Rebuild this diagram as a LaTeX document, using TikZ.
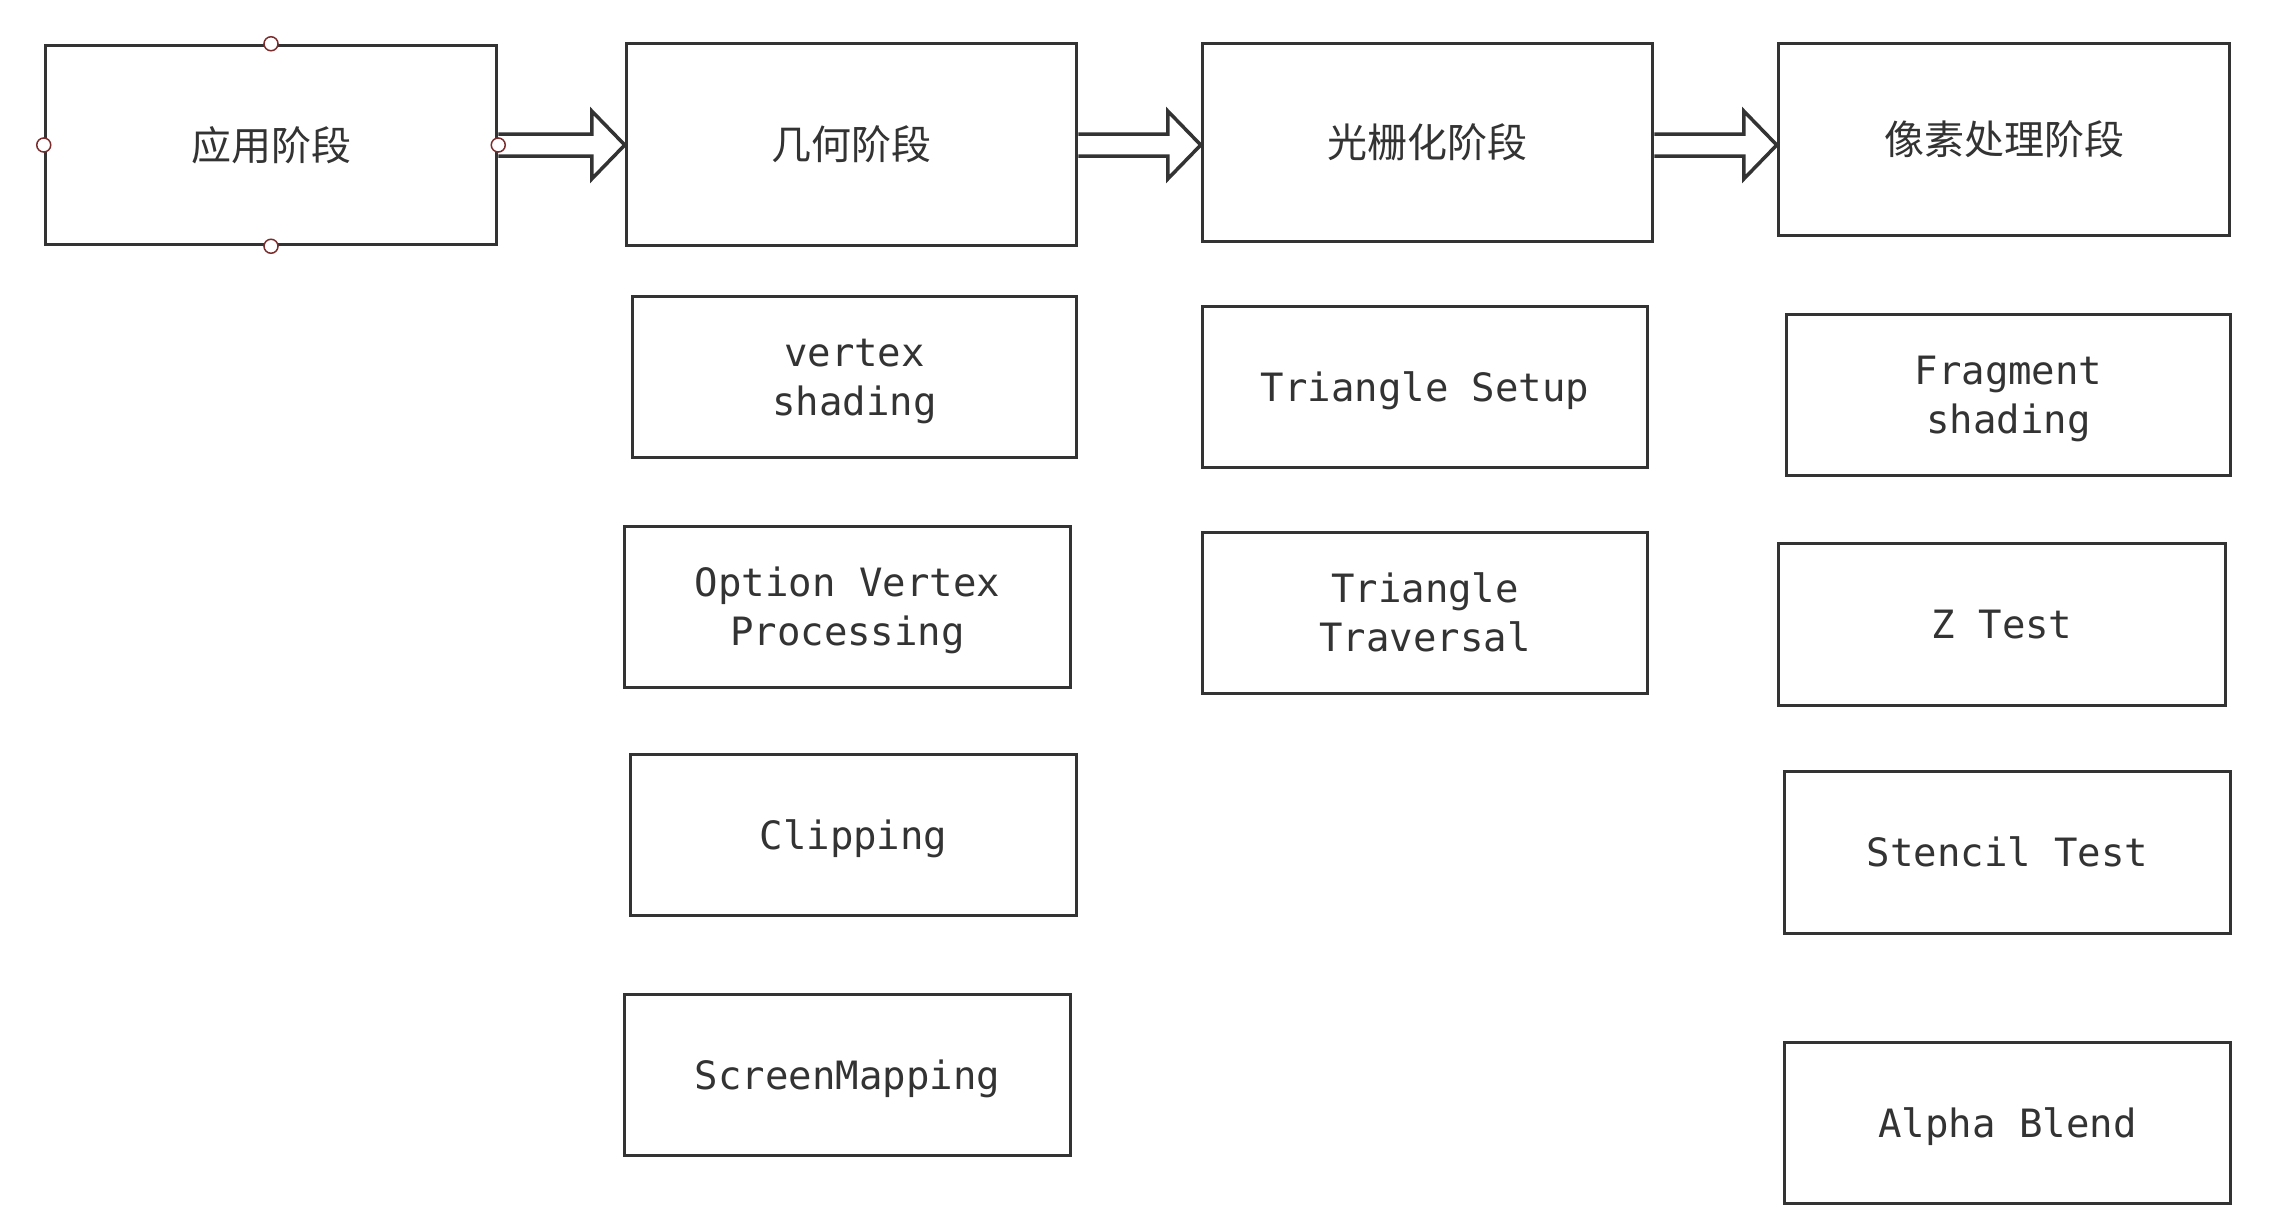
\documentclass[tikz,border=0pt]{standalone}
\usepackage{fontspec}
\usetikzlibrary{calc}
\newfontfamily\cjk{Noto Sans CJK SC}
\newfontfamily\monof{DejaVu Sans Mono}
\definecolor{linec}{HTML}{333333}
\definecolor{handlec}{HTML}{7B2D2D}
\newcommand\blockarrow[2]{%
  \draw[arr] ($(#1.east |- app.east)+(0,-11)$) -- ($(#2.west |- app.east)+(-33,-11)$)
    -- ($(#2.west |- app.east)+(-33,-34)$) -- (#2.west |- app.east)
    -- ($(#2.west |- app.east)+(-33,34)$) -- ($(#2.west |- app.east)+(-33,11)$)
    -- ($(#1.east |- app.east)+(0,11)$);}
\tikzset{
  box/.style={draw=linec, line width=3.5pt, rectangle, inner sep=0pt, text=linec},
  stagebox/.style={box, font=\cjk\fontsize{40}{48}\selectfont, text height=30pt, text depth=0pt},
  onebox/.style={box, font=\monof\fontsize{39}{49}\selectfont, text height=28pt, text depth=0pt},
  twobox/.style={box, align=center, font=\monof\fontsize{39}{49}\selectfont, text height=77pt, text depth=0pt},
  arr/.style={draw=linec, line width=3.5pt, line join=miter},
  handle/.style={circle, draw=handlec, fill=white, line width=1.5pt, minimum size=14pt, inner sep=0pt}
}
\begin{document}
\begin{tikzpicture}[x=1pt, y=-1pt]
\fill[white] (0,0) rectangle (2292,1216);
\useasboundingbox (0,0) rectangle (2292,1216);
% stages
\node[stagebox, minimum width=451pt, minimum height=199pt] (app) at (271,145) {应用阶段};
\node[stagebox, minimum width=450pt, minimum height=202pt] (geo) at (851.5,144.5) {几何阶段};
\node[stagebox, minimum width=450pt, minimum height=198pt] (ras) at (1427.5,142.5) {光栅化阶段};
\node[stagebox, minimum width=451pt, minimum height=192pt] (pix) at (2004,139.5) {像素处理阶段};
% geometry column
\node[twobox, minimum width=444pt, minimum height=161pt] (vs) at (854.5,377) {vertex\\shading};
\node[twobox, minimum width=446pt, minimum height=161pt] (ovp) at (847.5,607) {Option Vertex\\Processing};
\node[onebox, minimum width=446pt, minimum height=161pt] (clip) at (853.5,835) {Clipping};
\node[onebox, minimum width=446pt, minimum height=161pt] (sm) at (847.5,1075) {ScreenMapping};
% rasterization column
\node[onebox, minimum width=445pt, minimum height=161pt] (ts) at (1425,387) {Triangle Setup};
\node[twobox, minimum width=445pt, minimum height=161pt] (tt) at (1425,613) {Triangle\\Traversal};
% pixel column
\node[twobox, minimum width=444pt, minimum height=161pt] (fs) at (2008.5,395) {Fragment\\shading};
\node[onebox, minimum width=447pt, minimum height=162pt] (zt) at (2002,624.5) {Z Test};
\node[onebox, minimum width=446pt, minimum height=162pt] (st) at (2007.5,852.5) {Stencil Test};
\node[onebox, minimum width=446pt, minimum height=161pt] (ab) at (2007.5,1123) {Alpha Blend};
% arrows
\blockarrow{app}{geo}
\blockarrow{geo}{ras}
\blockarrow{ras}{pix}
% handles
\node[handle] (hn) at (app.north) {};
\node[handle] (hs) at (app.south) {};
\node[handle] (hw) at (app.west) {};
\node[handle] (he) at (app.east) {};
\end{tikzpicture}
\end{document}
